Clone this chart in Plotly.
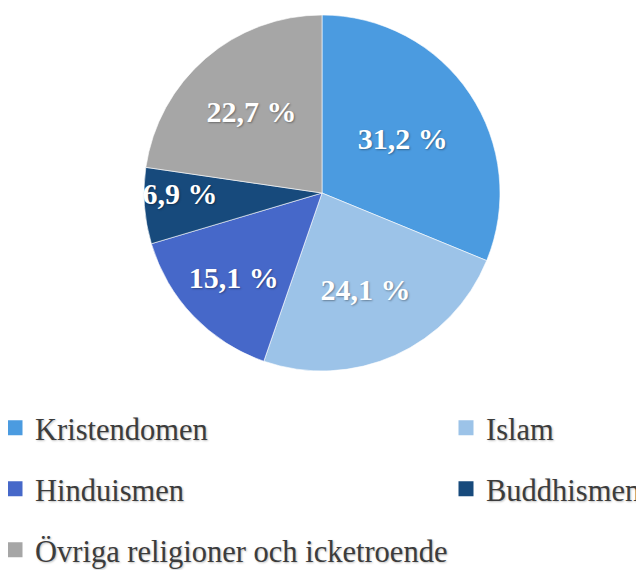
import plotly.graph_objects as go

labels = ["Kristendomen", "Islam", "Hinduismen", "Buddhismen", "Övriga religioner och icketroende"]
values = [31.2, 24.1, 15.1, 6.9, 22.7]
colors = ["#4b9be0", "#9cc3e8", "#4668c9", "#174a7c", "#a6a6a6"]

# legend placement (px from top-left): left edge, row centre
leg_x = [-13, 438, -13, 438, -13]
leg_y = [420, 420, 481, 481, 542]

W, H = 644, 570
cx, cy, r = 314, 185, 178

fig = go.Figure()
fig.add_trace(go.Pie(
    labels=labels, values=values, sort=False, direction="clockwise", rotation=0,
    marker=dict(colors=colors, line=dict(color="white", width=0.6)),
    texttemplate="%{value:.1f} %", textposition="inside", insidetextorientation="horizontal",
    textfont=dict(family="Liberation Serif", size=30, color="white", weight="bold",
                  shadow="1px 1px 2px rgba(0,0,0,0.35)"),
    hoverinfo="label+value", showlegend=False,
    domain=dict(x=[(cx - r) / W, (cx + r) / W], y=[1 - (cy + r) / H, 1 - (cy - r) / H]),
))

for i, (lab, col) in enumerate(zip(labels, colors)):
    name = "legend" if i == 0 else f"legend{i+1}"
    fig.add_trace(go.Scatter(
        x=[None], y=[None], mode="markers", name=lab, legend=name,
        marker=dict(symbol="square", size=15, color=col), showlegend=True,
    ))
    fig.update_layout({name: dict(
        x=leg_x[i] / W, y=1 - leg_y[i] / H, xref="paper", yref="paper",
        xanchor="left", yanchor="middle", bgcolor="rgba(0,0,0,0)",
        font=dict(family="Liberation Serif", size=30.5, color="#3c3c3c",
                  shadow="1px 1px 2px rgba(0,0,0,0.25)"),
    )})

fig.update_layout(
    width=W, height=H, margin=dict(l=0, r=0, t=0, b=0, autoexpand=False),
    paper_bgcolor="white", plot_bgcolor="white", separators=", ",
    uniformtext=dict(minsize=30, mode="show"),
    xaxis=dict(visible=False), yaxis=dict(visible=False),
)
fig.write_html("out.html")
